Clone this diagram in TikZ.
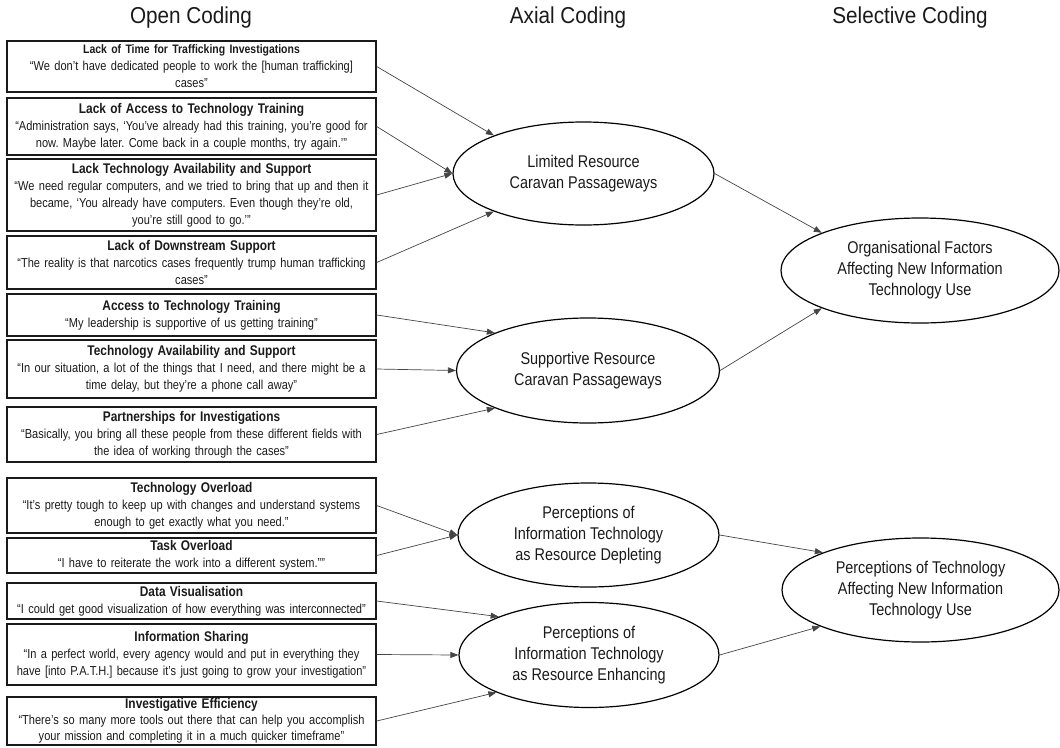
\documentclass[tikz,border=0pt]{standalone}
\usepackage{fontspec}
\setmainfont{Liberation Sans}[FakeStretch=0.85]
\newfontfamily\hfont{Liberation Sans}[FakeStretch=0.9]
\usetikzlibrary{arrows.meta,shapes.geometric}
\definecolor{ink}{HTML}{1A1A1A}
\definecolor{linec}{HTML}{444444}
\tikzset{
  box/.style={draw=ink, line width=1.4pt, rectangle, minimum width=369pt, text width=367pt,
    align=center, inner sep=0pt, text=ink, font=\frenchspacing\fontsize{13}{17}\selectfont},
  oval/.style={draw=black, line width=1.2pt, ellipse, inner sep=0pt, align=center, text=ink,
    font=\fontsize{17}{21}\selectfont},
  head/.style={text=ink, font=\hfont\fontsize{23}{26}\selectfont},
  conn/.style={draw=linec, line width=0.7pt, -{Triangle[length=8pt,width=6pt]}},
}
\newcommand{\bt}[1]{{\fontsize{14}{17}\selectfont\bfseries #1}}
\begin{document}
\begin{tikzpicture}[x=1pt,y=-1pt]
\useasboundingbox (0,0) rectangle (1060,747);
% headers
\node[head] (h1) at (191,18) {Open Coding};
\node[head] (h2) at (568,18) {Axial Coding};
\node[head] (h3) at (910,18) {Selective Coding};
% open coding boxes
\node[box, minimum height=51pt] (b1) at (191.5,66.5) {{\fontsize{12.3}{17}\selectfont\bfseries Lack of Time for Trafficking Investigations}\\
“We don’t have dedicated people to work the [human trafficking]\\ cases”};
\node[box, minimum height=57pt] (b2) at (191.5,126.5) {\bt{Lack of Access to Technology Training}\\
“Administration says, ‘You’ve already had this training, you’re good for\\ now. Maybe later. Come back in a couple months, try again.’”};
\node[box, minimum height=72pt] (b3) at (191.5,195) {\bt{Lack Technology Availability and Support}\\
“We need regular computers, and we tried to bring that up and then it\\ became, ‘You already have computers. Even though they’re old,\\ you’re still good to go.’”};
\node[box, minimum height=53pt] (b4) at (191.5,262.5) {\bt{Lack of Downstream Support}\\
“The reality is that narcotics cases frequently trump human trafficking\\ cases”};
\node[box, minimum height=42pt] (b5) at (191.5,315) {\bt{Access to Technology Training}\\
“My leadership is supportive of us getting training”};
\node[box, minimum height=58pt] (b6) at (191.5,369) {\bt{Technology Availability and Support}\\
“In our situation, a lot of the things that I need, and there might be a\\ time delay, but they’re a phone call away”};
\node[box, minimum height=55pt] (b7) at (191.5,434.5) {\bt{Partnerships for Investigations}\\
“Basically, you bring all these people from these different fields with\\ the idea of working through the cases”};
\node[box, minimum height=55pt] (b8) at (191.5,505.5) {\bt{Technology Overload}\\
“It’s pretty tough to keep up with changes and understand systems\\ enough to get exactly what you need.”};
\node[box, minimum height=35pt] (b9) at (191.5,555.5) {\bt{Task Overload}\\
“I have to reiterate the work into a different system.””};
\node[box, minimum height=36pt] (b10) at (191.5,601) {\bt{Data Visualisation}\\
“I could get good visualization of how everything was interconnected”};
\node[box, minimum height=61pt] (b11) at (191.5,654.5) {\bt{Information Sharing}\\
“In a perfect world, every agency would and put in everything they\\ have [into P.A.T.H.] because it’s just going to grow your investigation”};
\node[box, minimum height=48pt, font=\frenchspacing\fontsize{13}{16}\selectfont] (b12) at (191.5,721) {{\fontsize{14}{16}\selectfont\bfseries Investigative Efficiency}\\
“There’s so many more tools out there that can help you accomplish\\ your mission and completing it in a much quicker timeframe”};
% axial coding
\node[oval, minimum width=261pt, minimum height=103pt] (e1) at (583.5,173.5) {Limited Resource\\ Caravan Passageways};
\node[oval, minimum width=263pt, minimum height=105pt] (e2) at (588,370.5) {Supportive Resource\\ Caravan Passageways};
\node[oval, minimum width=261pt, minimum height=104pt] (e3) at (588.5,535) {Perceptions of\\ Information Technology\\ as Resource Depleting};
\node[oval, minimum width=260pt, minimum height=105pt] (e4) at (589,655) {Perceptions of\\ Information Technology\\ as Resource Enhancing};
% selective coding
\node[oval, minimum width=278pt, minimum height=105pt] (e5) at (920,270.5) {Organisational Factors\\ Affecting New Information\\ Technology Use};
\node[oval, minimum width=277pt, minimum height=104pt] (e6) at (920.5,590) {Perceptions of Technology\\ Affecting New Information\\ Technology Use};
% connectors
\draw[conn] (b1.east) -- (e1.157);
\draw[conn] (b2.east) -- (e1.west);
\draw[conn] (b3.east) -- (e1.west);
\draw[conn] (b4.east) -- (e1.203);
\draw[conn] (b5.east) -- (e2.158);
\draw[conn] (b6.east) -- (e2.west);
\draw[conn] (b7.east) -- (e2.202);
\draw[conn] (b8.east) -- (e3.west);
\draw[conn] (b9.east) -- (e3.west);
\draw[conn] (b10.east) -- (e4.157);
\draw[conn] (b11.east) -- (e4.west);
\draw[conn] (b12.east) -- (e4.202);
\draw[conn] (e1.east) -- (e5.159);
\draw[conn] (e2.east) -- (e5.201);
\draw[conn] (e3.east) -- (e6.159);
\draw[conn] (e4.east) -- (e6.200);
\end{tikzpicture}
\end{document}
